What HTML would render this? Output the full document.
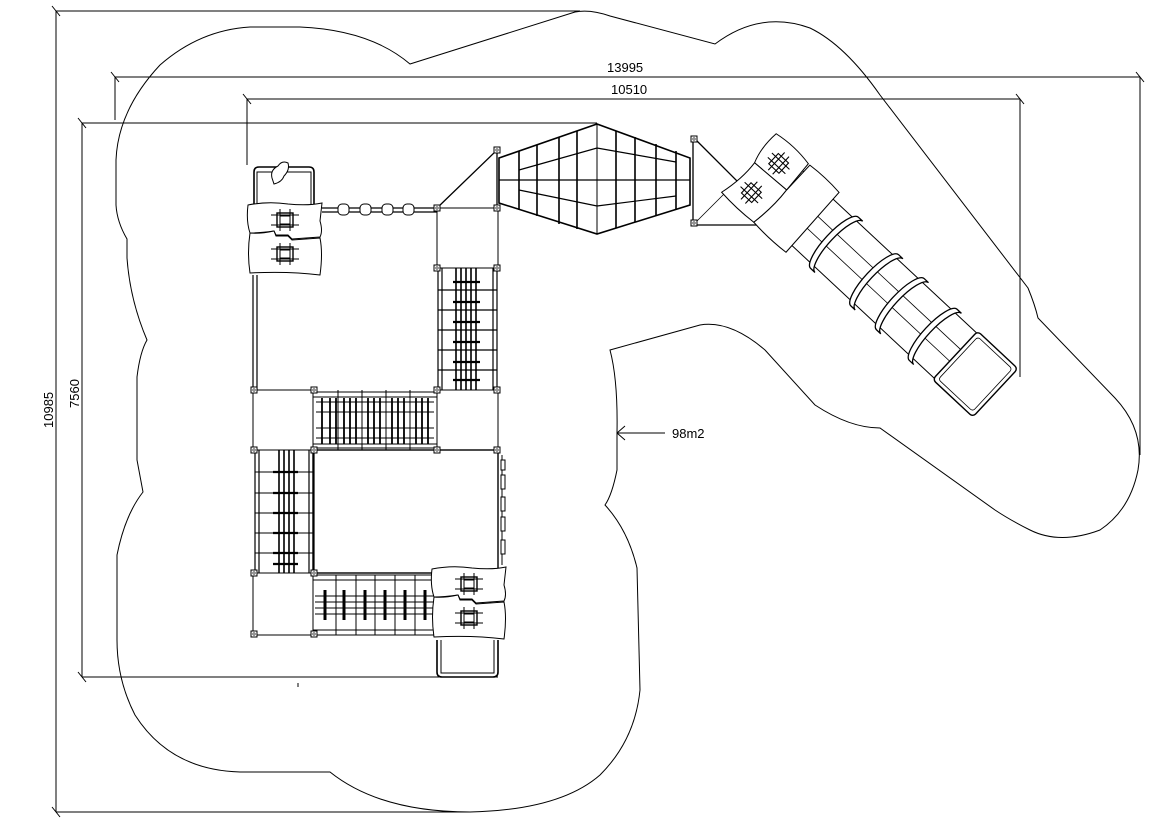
<!DOCTYPE html>
<html><head><meta charset="utf-8"><style>
html,body{margin:0;padding:0;background:#fff;}
svg{display:block;}
text{font-family:"Liberation Sans",sans-serif;font-size:13px;fill:#000;}
</style></head><body>
<svg width="1169" height="827" viewBox="0 0 1169 827" xmlns="http://www.w3.org/2000/svg">
<defs>
<g id="rock">
  <path d="M0,2 Q20,-2 40,1 Q60,3 74,0 L72,18 Q75,28 72,34 L44,36 L40,32 L28,32 L26,28 Q12,30 2,30 Q-2,18 0,2 Z" fill="#fff" stroke="#000" stroke-width="1"/>
  <path d="M2,30 Q12,31 26,28 L28,33 L40,33 L44,37 L72,35 Q75,50 72,72 Q40,68 2,70 Q-1,50 2,30 Z" fill="#fff" stroke="#000" stroke-width="1"/>
  <g transform="translate(37,17)">
    <rect x="-8" y="-7" width="16" height="14" fill="none" stroke="#000" stroke-width="1.4"/>
    <rect x="-5" y="-4" width="10" height="8" fill="none" stroke="#000" stroke-width="1"/>
    <path d="M-14,-5H14M-14,5H14M-5,-11V11M5,-11V11" stroke="#000" stroke-width="1"/>
  </g>
  <g transform="translate(37,51)">
    <rect x="-8" y="-7" width="16" height="14" fill="none" stroke="#000" stroke-width="1.4"/>
    <rect x="-5" y="-4" width="10" height="8" fill="none" stroke="#000" stroke-width="1"/>
    <path d="M-14,-5H14M-14,5H14M-5,-11V11M5,-11V11" stroke="#000" stroke-width="1"/>
  </g>
</g>
<g id="post"><rect x="-3" y="-3" width="6" height="6" fill="#fff" stroke="#000" stroke-width="1"/><circle r="1.2" fill="none" stroke="#000" stroke-width="0.6"/></g>
</defs>

<g stroke="#000" stroke-width="1" fill="none">
  <path d="M56,11H580"/><path d="M56,11V812"/><path d="M56,812H470"/>
  <path d="M52,6L60,16M52,807L60,817"/>
  <path d="M115,77H1140"/><path d="M115,77V120"/><path d="M111,72L119,82M1136,72L1144,82"/><path d="M1140,77V455"/>
  <path d="M247,99H1020"/><path d="M247,99V165"/><path d="M243,94L251,104M1016,94L1024,104"/><path d="M1020,99V377"/>
  <path d="M82,123H597"/><path d="M82,123V677"/><path d="M82,677H498"/><path d="M78,118L86,128M78,672L86,682"/>
  <path d="M298,683V687"/>
  <path d="M617,433H665"/><path d="M617,433L625,426M617,433L625,440"/>
</g>
<text x="607" y="72">13995</text>
<text x="611" y="94">10510</text>
<text x="672" y="438">98m2</text>
<text transform="translate(53,428) rotate(-90)">10985</text>
<text transform="translate(79,408) rotate(-90)">7560</text>

<path fill="none" stroke="#000" stroke-width="1" d="
M410,64 L575,12 Q590,9 610,16 L715,44 Q760,10 810,28 Q845,45 880,95 L1028,288 Q1035,305 1038,318
L1115,398 Q1145,430 1138,470 Q1130,510 1100,530 Q1060,545 1030,530 Q1010,520 995,510 L880,428
Q850,428 815,405 L765,350 Q730,320 700,325 L610,350 Q618,380 617,433 L617,470 Q612,495 605,505
Q628,530 637,568 L640,690 Q635,740 600,775 Q560,810 470,812 Q380,812 330,772 L240,772
Q170,770 135,715 Q117,680 117,640 L117,555 Q125,515 143,492 L137,460 L137,377 Q140,352 147,340
Q130,300 127,258 L127,239 Q117,222 116,205 L116,160 Q118,110 160,65 Q200,30 250,27 L300,27 Q370,30 410,64 Z"/>

<g stroke="#000" fill="none" stroke-width="1">
  <path d="M254,205V172Q254,167 259,167H309Q314,167 314,172V205" stroke-width="1.6"/>
  <path d="M257,205V172H311V205"/>
  <path d="M272,178Q270,170 278,166Q282,160 288,163Q290,170 284,176Q282,182 274,184Z" fill="#fff"/>
  <path d="M253,275V390M257,275V390" stroke-width="1.2"/>
  <path d="M322,208H437M322,212H437" stroke-width="1.2"/>
  <g fill="#fff">
    <rect x="338" y="204" width="11" height="11" rx="4"/><rect x="360" y="204" width="11" height="11" rx="4"/>
    <rect x="382" y="204" width="11" height="11" rx="4"/><rect x="403" y="204" width="11" height="11" rx="4"/>
  </g>
  <path d="M437,208L497,150V208" stroke-width="1.3"/>
  <rect x="437" y="208" width="61" height="60"/>
  <path d="M438,268V390M442,268V390M493,268V390M497,268V390" stroke-width="1.2"/>
  <path d="M438,290H497M438,310H497M438,330H497M438,350H497M438,370H497" stroke-width="1.2"/>
  <path d="M456,268V390M461,268V390M466,268V390M471,268V390M476,268V390" stroke-width="1.6"/>
  <path d="M453,282H480M453,302H480M453,322H480M453,342H480M453,362H480M453,380H480" stroke-width="2.2"/>
  <rect x="437" y="390" width="61" height="60"/>
  <rect x="253" y="390" width="60" height="60"/>
  <path d="M313,392H437M313,397H437M313,444H437M313,448H437" stroke-width="1.1"/>
  <path d="M316,402H434M316,412H434M316,428H434M316,438H434"/>
  <path d="M338,390V450M362,390V450M386,390V450M410,390V450"/>
  <path d="M322,398V444M330,398V444M336,398V444M344,398V444M350,398V444M356,398V444M368,398V444M374,398V444M380,398V444M392,398V444M398,398V444M404,398V444M416,398V444M422,398V444M428,398V444" stroke-width="1.8"/>
  <path d="M255,450V573M259,450V573M309,450V573M314,450V573" stroke-width="1.2"/>
  <path d="M255,472H314M255,493H314M255,513H314M255,533H314M255,553H314"/>
  <path d="M279,450V573M284,450V573M289,450V573M294,450V573" stroke-width="1.6"/>
  <path d="M273,472H298M273,493H298M273,513H298M273,533H298M273,553H298M273,564H298" stroke-width="2.2"/>
  <rect x="313" y="450" width="185" height="123" stroke-width="1.4"/>
  <path d="M498,455V565M502,455V565" stroke-width="1"/>
  <rect x="501" y="460" width="4" height="10" fill="#fff"/><rect x="501" y="475" width="4" height="14" fill="#fff"/>
  <rect x="501" y="497" width="4" height="14" fill="#fff"/><rect x="501" y="517" width="4" height="14" fill="#fff"/><rect x="501" y="540" width="4" height="14" fill="#fff"/>
  <rect x="253" y="573" width="60" height="62"/>
  <path d="M313,575H434M313,580H434M313,630H434M313,635H434" stroke-width="1.1"/>
  <path d="M315,596H434M315,602H434M315,608H434M315,614H434"/>
  <path d="M336,575V635M356,575V635M375,575V635M395,575V635M415,575V635"/>
  <path d="M325,590V620M344,590V620M365,590V620M385,590V620M405,590V620M425,590V620" stroke-width="3"/>
  <path d="M437,640V672Q437,677 442,677H493Q498,677 498,672V640" stroke-width="1.6"/>
  <path d="M441,640V673H494V640"/>
  <g stroke-width="1">
    <use href="#post" x="437" y="208"/><use href="#post" x="497" y="208"/><use href="#post" x="497" y="150"/>
    <use href="#post" x="437" y="268"/><use href="#post" x="497" y="268"/>
    <use href="#post" x="437" y="390"/><use href="#post" x="497" y="390"/>
    <use href="#post" x="437" y="450"/><use href="#post" x="497" y="450"/>
    <use href="#post" x="254" y="390"/><use href="#post" x="314" y="390"/>
    <use href="#post" x="254" y="450"/><use href="#post" x="314" y="450"/>
    <use href="#post" x="254" y="573"/><use href="#post" x="314" y="573"/>
    <use href="#post" x="254" y="634"/><use href="#post" x="314" y="634"/>
  </g>
</g>
<use href="#rock" x="248" y="203"/>
<use href="#rock" x="432" y="567"/>

<g stroke="#000" fill="none">
  <path d="M499,158L597,124L690,158V205L597,234L499,203Z" stroke-width="1.6"/>
  <path d="M499,180H690" stroke-width="1.3"/>
  <path d="M519,170L597,148L676,162M519,190L597,206L676,196" stroke-width="1.2"/>
  <path d="M597,124V234" stroke-width="1"/>
  <path d="M519,151V210M537,145V216M559,137V224M577,131V229M616,131V228M635,137V222M656,144V216M676,151V210" stroke-width="1.6"/>
</g>

<g stroke="#000" fill="none">
  <path d="M693,137V225H781Z" stroke-width="1.3" fill="#fff"/>
  <path d="M693,225L737,181" stroke-width="0.8"/>
  <use href="#post" x="694" y="139"/><use href="#post" x="694" y="223"/>
  <g transform="translate(765,178) rotate(43)">
    <path d="M20,-31H262M20,31H262" stroke-width="1"/>
    <path d="M20,-8H266M20,8H266" stroke-width="0.8"/>
    <g fill="#fff" stroke-width="1.3">
      <path d="M95,-35 A10,35 0 0 0 95,35 L101,35 A10,35 0 0 1 101,-35Z"/>
      <path d="M150,-35 A10,35 0 0 0 150,35 L156,35 A10,35 0 0 1 156,-35Z"/>
      <path d="M185,-35 A10,35 0 0 0 185,35 L191,35 A10,35 0 0 1 191,-35Z"/>
      <path d="M230,-35 A10,35 0 0 0 230,35 L236,35 A10,35 0 0 1 236,-35Z"/>
    </g>
    <rect x="260" y="-33" width="55" height="66" rx="4" fill="#fff" stroke-width="1.4"/>
    <rect x="264" y="-29" width="47" height="58" rx="3" stroke-width="0.8"/>
    <g fill="#fff" stroke-width="1">
      <path d="M-22,-40 Q0,-44 22,-40 L24,-6 L-18,-4 Q-24,-20 -22,-40Z"/>
      <path d="M-18,-4 L24,-6 Q26,15 22,40 Q0,42 -22,40 Q-16,16 -18,-4Z"/>
      <path d="M24,-40 Q44,-42 64,-40 L66,40 Q44,42 22,40 Q26,15 24,-6Z"/>
    </g>
    <g stroke-width="1.1">
      <rect x="-7" y="-27" width="14" height="14"/><path d="M-12,-23H12M-12,-17H12M-3,-32V-8M3,-32V-8"/>
      <rect x="-7" y="13" width="14" height="14"/><path d="M-12,17H12M-12,23H12M-3,8V32M3,8V32"/>
    </g>
  </g>
</g>
</svg>
</body></html>
